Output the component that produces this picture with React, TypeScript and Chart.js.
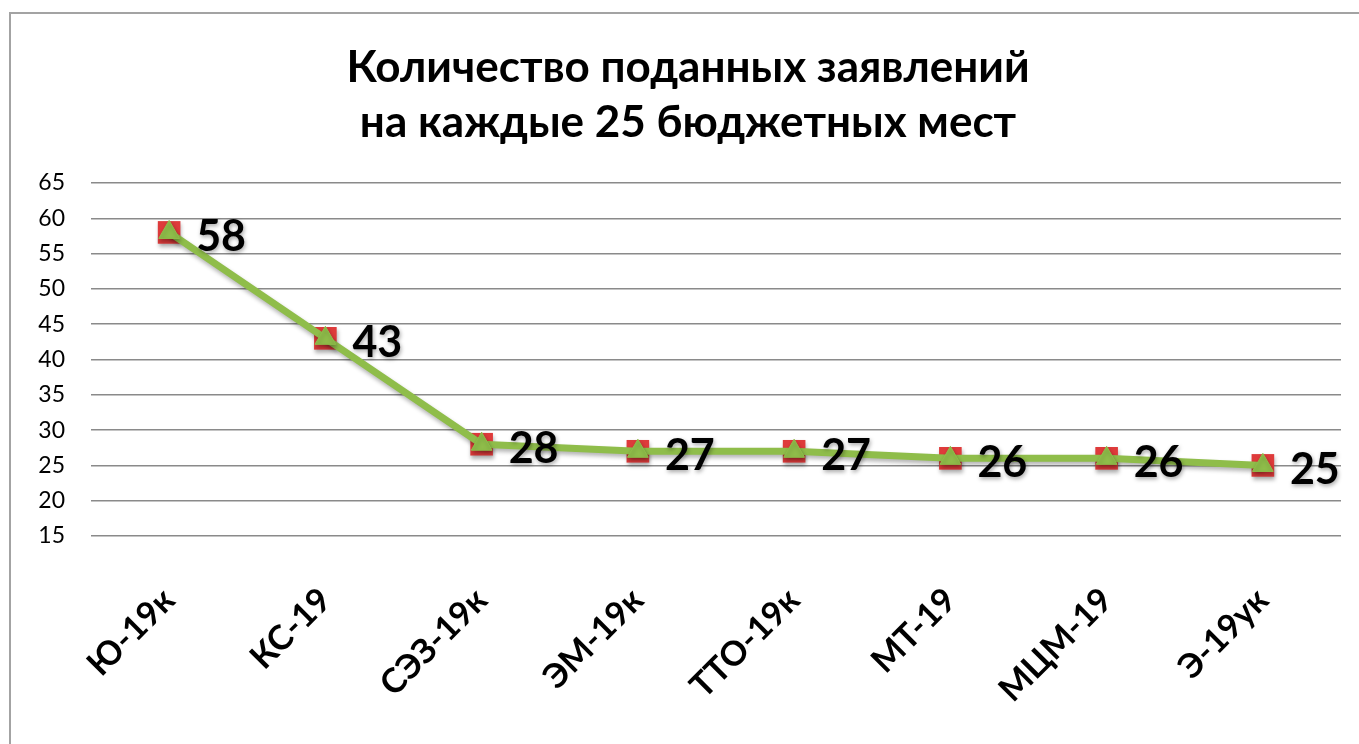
import React, { useEffect, useRef } from "react";
import { Chart, registerables } from "chart.js";

Chart.register(...registerables);

const titleLines = ["Количество поданных заявлений", "на каждые 25 бюджетных мест"];
const categories = ["Ю-19к", "КС-19", "СЭЗ-19к", "ЭМ-19к", "ТТО-19к", "МТ-19", "МЦМ-19", "Э-19ук"];
const applications = [58, 43, 28, 27, 27, 26, 26, 25];
const yMin = 15;
const yMax = 65;
const yStep = 5;

const FONT = "Lato, 'Open Sans', 'DejaVu Sans', sans-serif";

const valueLabelPlugin = {
  id: "valueLabels",
  afterDatasetsDraw(chart: any) {
    const meta = chart.getDatasetMeta(0);
    const ctx = chart.ctx;
    ctx.save();
    ctx.font = `bold 43px ${FONT}`;
    ctx.fillStyle = "#000";
    ctx.textAlign = "left";
    ctx.textBaseline = "middle";
    ctx.shadowColor = "rgba(0,0,0,0.35)";
    ctx.shadowBlur = 4;
    ctx.shadowOffsetX = 1;
    ctx.shadowOffsetY = 2;
    meta.data.forEach((pt: any, i: number) => {
      ctx.fillText(String(applications[i]), pt.x + 27, pt.y + 5);
    });
    ctx.restore();
  },
};

const shadowPlugin = {
  id: "markerShadow",
  beforeDatasetDraw(chart: any) {
    const ctx = chart.ctx;
    ctx.save();
    ctx.shadowColor = "rgba(0,0,0,0.3)";
    ctx.shadowBlur = 4;
    ctx.shadowOffsetX = 1;
    ctx.shadowOffsetY = 3;
  },
  afterDatasetDraw(chart: any) {
    chart.ctx.restore();
  },
};

export default function App() {
  const canvasRef = useRef<HTMLCanvasElement | null>(null);

  useEffect(() => {
    if (!canvasRef.current) return;
    const chart = new Chart(canvasRef.current, {
      type: "line",
      data: {
        labels: categories,
        datasets: [
          {
            label: "line",
            data: applications,
            borderColor: "#8fbd4a",
            borderWidth: 7,
            pointStyle: "triangle",
            pointRadius: 12,
            pointBackgroundColor: "#8fbd4a",
            pointBorderColor: "#8fbd4a",
            pointBorderWidth: 1,
            tension: 0,
          },
          {
            label: "markers",
            data: applications,
            showLine: false,
            pointStyle: "rect",
            pointRadius: 16,
            pointBackgroundColor: "#de3b3b",
            pointBorderColor: "#de3b3b",
            pointBorderWidth: 0,
          },
        ],
      },
      plugins: [shadowPlugin, valueLabelPlugin],
      options: {
        responsive: false,
        devicePixelRatio: 1,
        animation: false,
        layout: { padding: { left: 35, right: 18, top: 0, bottom: 0 } },
        plugins: {
          legend: { display: false },
          tooltip: { enabled: false },
          title: {
            display: true,
            text: titleLines,
            color: "#000",
            font: { family: FONT, size: 44, weight: "bold", lineHeight: 1.25 },
            padding: { top: 40, bottom: 33 },
          },
        },
        scales: {
          x: {
            offset: true,
            grid: { display: false, drawTicks: false },
            border: { display: false },
            ticks: {
              color: "#000",
              font: { family: FONT, size: 34, weight: "bold" },
              minRotation: 45,
              maxRotation: 45,
              padding: 44,
              labelOffset: 0,
              autoSkip: false,
            },
            afterFit(scale: any) {
              scale.height = 208;
            },
          },
          y: {
            min: yMin,
            max: yMax,
            grid: { color: "#8a8a8a", lineWidth: 1.5, drawTicks: false },
            border: { display: false },
            ticks: {
              stepSize: yStep,
              color: "#000",
              font: { family: FONT, size: 23 },
              padding: 26,
            },
            afterFit(scale: any) {
              scale.width = 56;
            },
          },
        },
      },
    });
    return () => chart.destroy();
  }, []);

  return (
    <div style={{ position: "fixed", left: 0, top: 0, width: 1359, height: 744, background: "#fff", overflow: "hidden" }}>
      <div
        style={{
          position: "absolute",
          left: 9,
          top: 12,
          right: -10,
          bottom: -10,
          borderLeft: "2px solid #a3a3a3",
          borderTop: "2px solid #a3a3a3",
        }}
      />
      <canvas ref={canvasRef} width={1359} height={744} style={{ position: "absolute", left: 0, top: 0 }} />
    </div>
  );
}
